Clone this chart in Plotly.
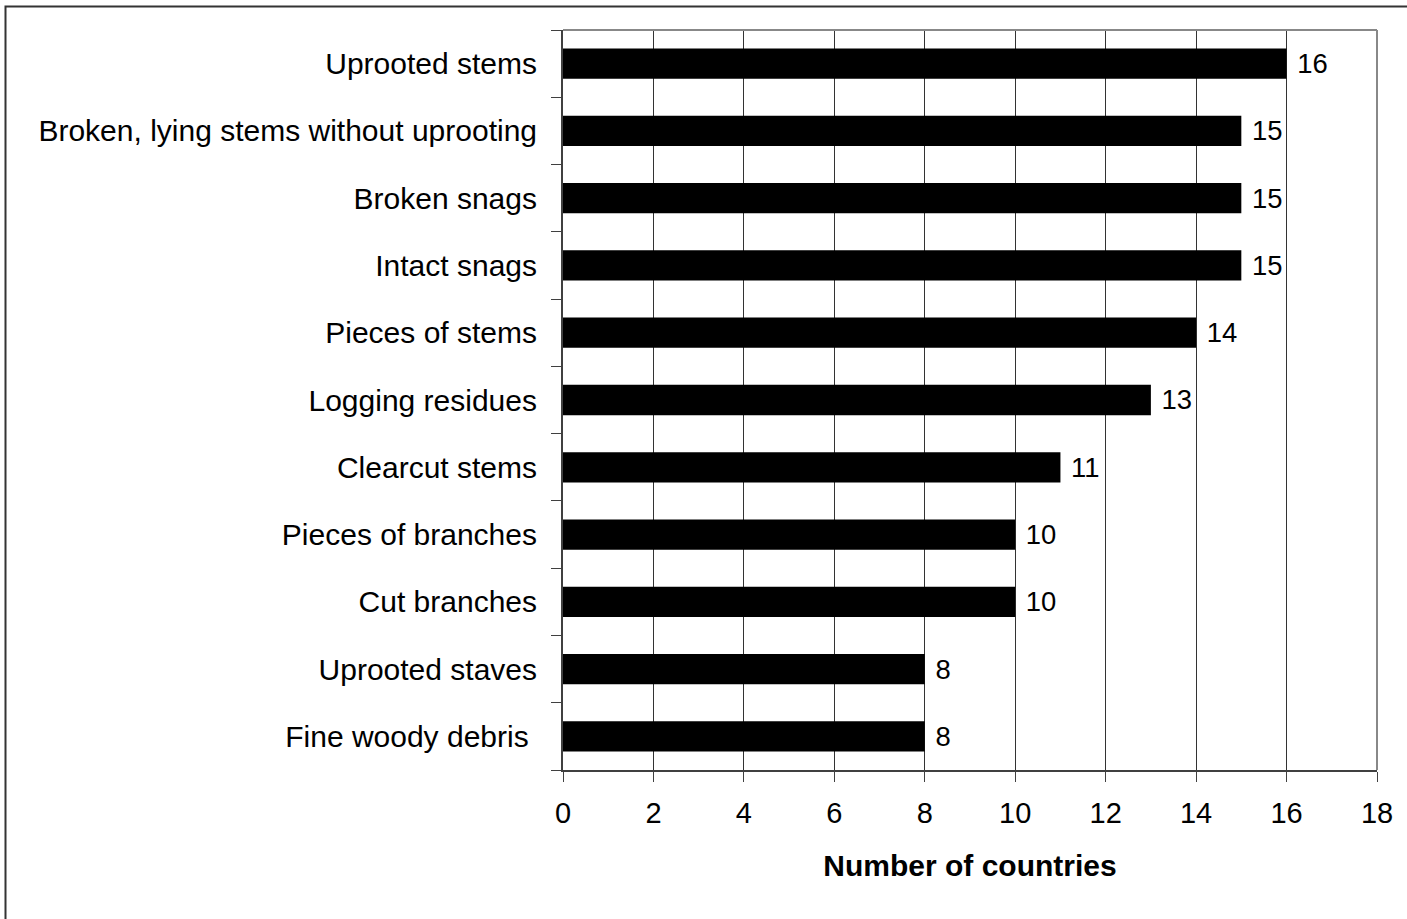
import plotly.graph_objects as go

# Deadwood types, listed top to bottom
categories = [
    "Uprooted stems",
    "Broken, lying stems without uprooting",
    "Broken snags",
    "Intact snags",
    "Pieces of stems",
    "Logging residues",
    "Clearcut stems",
    "Pieces of branches",
    "Cut branches",
    "Uprooted staves",
    "Fine woody debris ",
]
countries = [16, 15, 15, 15, 14, 13, 11, 10, 10, 8, 8]
x_ticks = [0, 2, 4, 6, 8, 10, 12, 14, 16, 18]

FONT = "Liberation Sans, Arial, sans-serif"
FS = 30

fig = go.Figure(
    go.Bar(
        x=countries,
        y=categories,
        orientation="h",
        marker=dict(color="black", line=dict(width=0)),
        texttemplate=" %{x}",
        textposition="outside",
        textfont=dict(family=FONT, size=FS - 1, color="black"),
        cliponaxis=False,
        width=0.45,
    )
)

W, H = 1407, 919
L, R, T, B = 563, 30, 30, 149
pw, ph = W - L - R, H - T - B

def px_x(x):
    return (x - L) / pw

def px_y(y):
    return (H - B - y) / ph

fig.update_layout(
    width=W,
    height=H,
    margin=dict(l=L, r=R, t=T, b=B, pad=0),
    paper_bgcolor="white",
    plot_bgcolor="white",
    showlegend=False,
    font=dict(family=FONT, size=FS, color="black"),
    xaxis=dict(
        range=[0, 18],
        tickvals=x_ticks,
        ticktext=[str(v) for v in x_ticks],
        tickfont=dict(size=FS - 1),
        showgrid=True,
        gridcolor="#333333",
        gridwidth=1,
        zeroline=False,
        showline=True,
        linecolor="#404040",
        linewidth=2,
        ticks="outside",
        ticklen=10,
        tickcolor="#404040",
        tickwidth=1,
        ticklabelstandoff=6,
        title=dict(
            text="<b>Number of countries</b>",
            font=dict(family=FONT, size=FS, color="black"),
            standoff=27,
        ),
    ),
    yaxis=dict(
        categoryorder="array",
        categoryarray=categories[::-1],
        showgrid=False,
        zeroline=False,
        showline=True,
        linecolor="#404040",
        linewidth=2,
        ticks="outside",
        tickson="boundaries",
        ticklen=10,
        tickcolor="#404040",
        tickwidth=1,
        ticklabelstandoff=18,
    ),
    shapes=[
        # top and right edges of the plot area
        dict(type="line", xref="paper", yref="paper", x0=0, x1=1, y0=1, y1=1,
             line=dict(color="#888888", width=2), layer="above"),
        dict(type="line", xref="paper", yref="paper", x0=1, x1=1, y0=0, y1=1,
             line=dict(color="#888888", width=2), layer="above"),
        # outer frame
        dict(type="rect", xref="paper", yref="paper",
             x0=px_x(5.5), x1=px_x(1415), y0=px_y(6.5), y1=px_y(930),
             line=dict(color="#333333", width=2), fillcolor="rgba(0,0,0,0)",
             layer="above"),
    ],
)

fig.write_html("out.html")
